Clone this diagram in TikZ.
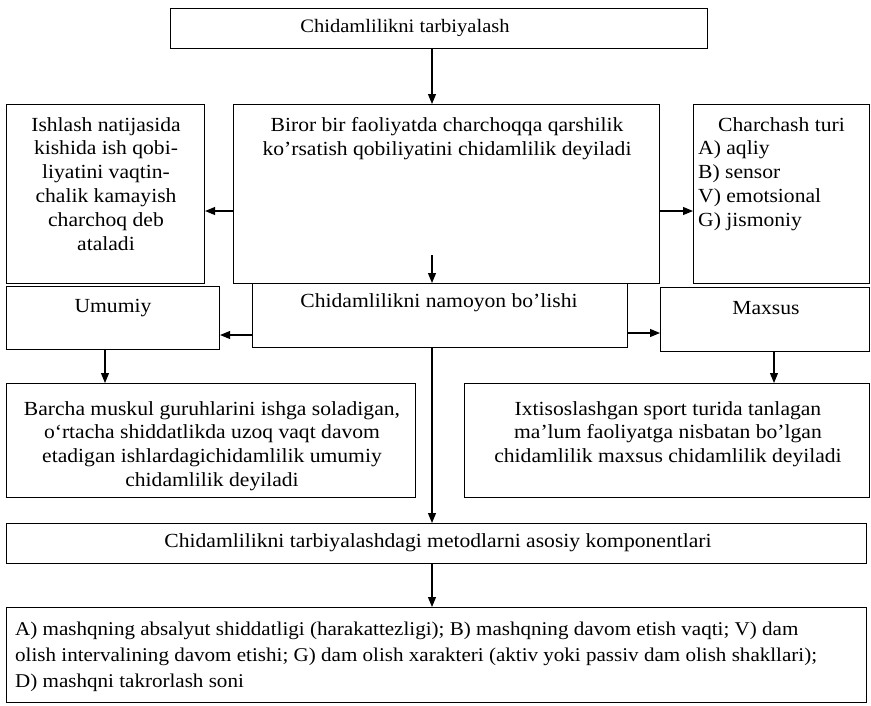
\documentclass[tikz,border=0pt]{standalone}
\usepackage{fontspec}
\setmainfont{Liberation Serif}
\newfontfamily\boxfont[FakeStretch=1.08]{Liberation Serif}
\usetikzlibrary{arrows.meta}
\tikzset{
  box/.style={draw, line width=1.1pt, inner sep=0pt, anchor=north west},
  txt/.style={inner sep=0pt, align=center, font=\boxfont\fontsize{20}{23.8}\selectfont},
  wide/.style={font=\boxfont\fontsize{19.5}{26}\selectfont},
  arr/.style={line width=1.1pt, -{Triangle[length=10pt,width=8pt]}}
}
\begin{document}
\begin{tikzpicture}[x=1pt,y=-1pt]
\useasboundingbox (0,0) rectangle (871,705);
% boxes
\node[box, minimum width=537, minimum height=40] (top) at (170,8) {};
\node[box, minimum width=198, minimum height=179] (ishlash) at (6,104) {};
\node[box, minimum width=426, minimum height=179] (biror) at (233,104) {};
\node[box, minimum width=176, minimum height=179] (charchash) at (693,104) {};
\node[box, minimum width=213, minimum height=63] (umumiy) at (6,286) {};
\node[box, minimum width=375, minimum height=64] (namoyon) at (252,283) {};
\node[box, minimum width=209, minimum height=64] (maxsus) at (660,287) {};
\node[box, minimum width=409, minimum height=114] (barcha) at (6,383) {};
\node[box, minimum width=405, minimum height=114] (ixtis) at (464,383) {};
\node[box, minimum width=860, minimum height=40] (metod) at (6,523) {};
\node[box, minimum width=860, minimum height=95] (komp) at (6,607) {};
% texts
\node[txt, font=\boxfont\fontsize{19}{22}\selectfont] at (405,28) {Chidamlilikni tarbiyalash};
\node[txt, anchor=north] at (106,117) {Ishlash natijasida\\kishida ish qobi-\\liyatini vaqtin-\\chalik kamayish\\charchoq deb\\ataladi};
\node[txt, anchor=north] at (447,117) {Biror bir faoliyatda charchoqqa qarshilik\\ko’rsatish qobiliyatini chidamlilik deyiladi};
\node[txt, anchor=north west, align=left] at (698,117) {\hspace*{20pt}Charchash turi\\A) aqliy\\B) sensor\\V) emotsional\\G) jismoniy};
\node[txt] at (113,308) {Umumiy};
\node[txt] at (439,303) {Chidamlilikni namoyon bo’lishi};
\node[txt] at (766,308) {Maxsus};
\node[txt, anchor=north] at (212,401) {Barcha muskul guruhlarini ishga soladigan,\\o‘rtacha shiddatlikda uzoq vaqt davom\\etadigan ishlardagichidamlilik umumiy\\chidamlilik deyiladi};
\node[txt, anchor=north] at (668,401) {Ixtisoslashgan sport turida tanlagan\\ma’lum faoliyatga nisbatan bo’lgan\\chidamlilik maxsus chidamlilik deyiladi};
\node[txt, font=\boxfont\fontsize{20}{24}\selectfont] at (438,543) {Chidamlilikni tarbiyalashdagi metodlarni asosiy komponentlari};
\node[txt, wide, anchor=north west, align=left] at (15,622) {A) mashqning absalyut shiddatligi (harakattezligi); B) mashqning davom etish vaqti; V) dam\\olish intervalining davom etishi; G) dam olish xarakteri (aktiv yoki passiv dam olish shakllari);\\D) mashqni takrorlash soni};
% connectors
\draw[arr] (top.south -| 432,0) -- (biror.north -| 432,0);
\draw[arr] (biror.west |- 0,211) -- (ishlash.east |- 0,211);
\draw[arr] (biror.east |- 0,211) -- (charchash.west |- 0,211);
\coordinate (inner) at (432,255);
\draw[arr] (inner) -- (namoyon.north -| inner);
\draw[arr] (namoyon.west |- 0,335) -- (umumiy.east |- 0,335);
\draw[arr] (namoyon.east |- 0,333) -- (maxsus.west |- 0,333);
\draw[arr] (umumiy.south -| 105,0) -- (barcha.north -| 105,0);
\draw[arr] (maxsus.south -| 774,0) -- (ixtis.north -| 774,0);
\draw[arr] (namoyon.south -| 432,0) -- (metod.north -| 432,0);
\draw[arr] (metod.south -| 432,0) -- (komp.north -| 432,0);
\end{tikzpicture}
\end{document}
